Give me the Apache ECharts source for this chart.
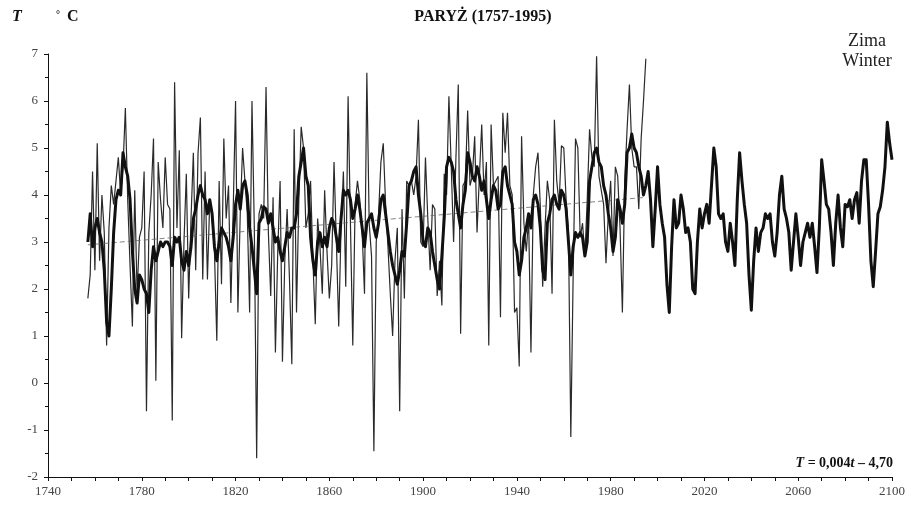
<!DOCTYPE html>
<html><head><meta charset="utf-8">
<script src="https://cdn.jsdelivr.net/npm/echarts@6/dist/echarts.min.js"></script>
<style>html,body{margin:0;padding:0;background:#fff}#c{width:912px;height:506px}</style>
</head><body><div id="c"></div>
<script>
// Observed winter temperatures, Paris 1757-1995 (thin line)
const observedStartYear = 1757;
const observed = [
1.8,2.3,4.5,2.4,5.1,2.6,4.0,3.2,0.8,3.3,4.2,3.8,4.3,4.8,4.0,4.6,5.85,3.9,2.5,1.2,4.1,1.9,3.1,3.3,4.5,-0.6,3.2,4.0,5.2,0.05,4.7,3.9,3.3,4.8,
3.8,3.7,-0.8,6.4,3.3,4.95,0.95,3.0,4.45,1.8,3.5,4.9,2.4,4.9,5.65,2.2,4.5,2.2,3.9,3.5,2.8,0.9,4.3,2.1,5.2,3.5,4.2,1.7,3.7,6.0,1.5,3.6,5.0,4.3,3.6,
1.5,6.0,3.3,-1.6,3.6,3.8,3.5,6.3,3.2,1.85,3.95,0.65,2.8,4.3,0.45,2.6,3.7,2.2,0.4,5.4,1.5,3.9,5.45,5.0,3.3,3.6,4.3,2.6,1.25,3.5,2.9,1.9,4.1,2.8,1.8,
2.5,4.7,3.0,1.2,3.3,4.5,2.05,6.1,3.4,0.8,3.8,4.3,3.9,3.2,1.9,6.6,3.4,2.7,-1.45,3.0,3.6,4.7,5.1,3.8,2.9,1.9,1.0,2.6,3.3,-0.6,3.7,1.8,4.3,4.2,4.3,
4.0,4.4,5.6,3.0,2.9,4.8,3.5,2.4,3.8,3.7,1.85,2.6,1.65,4.45,4.0,6.1,4.6,3.0,4.8,6.35,1.05,4.2,4.3,5.8,4.2,4.4,5.25,3.2,4.4,5.5,
4.0,4.7,0.8,5.5,4.2,4.3,4.4,1.4,5.75,4.9,5.75,4.2,4.0,1.5,1.6,0.35,5.25,3.4,2.8,3.5,0.65,4.0,4.6,4.9,3.75,2.05,3.3,4.3,3.9,1.9,5.6,4.3,3.8,5.05,5.0,
3.9,3.2,-1.15,2.3,5.2,5.0,3.1,3.4,2.7,3.9,5.4,4.8,4.6,6.95,4.4,4.1,3.8,2.55,3.6,4.3,2.7,4.6,4.4,3.3,1.5,4.3,5.4,6.35,5.0,4.6,4.6,3.7,5.2,6.0,6.9
];
// Smoothed / projected series 1757-2100 (thick line)
const modelStartYear = 1757;
const model = [
3.0,3.6,2.9,3.3,3.5,3.2,3.0,2.4,1.3,1.0,2.0,3.2,3.9,4.1,4.0,4.9,4.6,4.4,3.9,2.8,2.0,1.7,2.3,2.2,2.0,1.9,1.5,2.4,2.9,2.6,2.8,3.0,2.9,3.0,
3.0,2.9,2.5,3.1,3.0,3.1,2.6,2.4,2.8,2.5,2.9,3.5,3.7,4.0,4.2,4.0,3.9,3.6,3.9,3.6,2.9,2.6,3.0,3.3,3.2,3.1,2.9,2.6,3.1,3.8,4.1,3.7,4.2,4.3,4.0,
3.3,2.9,2.4,1.9,3.4,3.5,3.75,3.7,3.4,3.6,3.3,3.0,3.1,2.8,2.6,2.9,3.2,3.1,3.3,3.3,3.6,4.4,4.7,5.0,4.4,4.2,3.1,2.6,2.3,3.0,3.2,2.9,3.1,2.9,3.3,
3.5,3.4,3.1,2.8,3.5,4.1,4.0,4.1,3.9,3.5,3.7,4.0,3.7,3.3,2.9,3.4,3.5,3.6,3.3,3.1,3.4,3.9,4.0,3.6,3.2,2.8,2.5,2.3,2.1,2.4,2.8,2.7,3.4,4.2,4.3,
4.5,4.6,4.0,3.6,3.0,2.9,3.3,3.2,2.8,2.5,2.2,2.0,2.7,3.5,4.6,4.8,4.7,4.5,3.9,3.6,3.3,3.8,4.1,4.9,4.7,4.4,4.3,4.6,4.4,4.1,
4.3,3.9,3.5,3.9,4.2,4.1,3.7,3.8,4.5,4.6,4.2,4.0,3.8,3.0,2.8,2.3,2.6,3.1,3.3,3.6,3.3,3.9,4.0,3.8,3.3,2.4,2.2,3.4,3.6,3.9,4.0,3.8,3.7,4.1,4.0,
3.7,3.0,2.3,2.9,3.2,3.1,3.2,3.1,2.7,3.0,4.3,4.6,4.9,5.0,4.7,4.6,4.2,4.0,3.6,3.3,2.8,3.1,3.9,3.7,3.4,3.8,4.9,5.0,5.3,5.0,4.9,4.6,4.4,4.0,4.2,
4.5,3.9,2.9,3.7,4.6,3.8,3.4,3.1,2.1,1.5,2.9,3.9,3.3,3.4,4.0,3.7,3.2,3.3,3.0,2.0,1.9,3.0,3.7,3.3,3.6,3.8,3.4,4.2,5.0,4.6,3.6,3.5,3.6,3.0,2.8,
3.4,3.0,2.5,3.9,4.9,4.3,3.8,3.4,2.3,1.55,2.6,3.3,2.8,3.2,3.3,3.6,3.5,3.6,3.0,2.7,3.2,4.0,4.4,3.7,3.5,3.2,2.4,3.0,3.6,3.1,2.5,3.0,3.2,3.4,3.1,
3.4,2.9,2.35,3.3,4.75,4.3,3.8,3.7,3.2,2.5,3.4,4.0,3.3,2.9,3.8,3.75,3.9,3.5,3.9,4.05,3.4,4.3,4.75,4.75,3.8,2.6,2.05,2.8,3.6,3.75,4.1,4.6,5.55,5.1,4.75
];
// Linear trend (dashed) at its ends
const trendYears = [1757, 1995];
const trendValues = [2.94, 3.95];

const obsData = observed.map((v, i) => [observedStartYear + i, v]);
const modelData = model.map((v, i) => [modelStartYear + i, v]);
const trendData = trendYears.map((y, i) => [y, trendValues[i]]);

const serif = '"Liberation Serif", "DejaVu Serif", serif';
const chart = echarts.init(document.getElementById('c'), null, {renderer: 'canvas'});
chart.setOption({
  animation: false,
  backgroundColor: '#fff',
  grid: {left: 48, right: 20, top: 54, bottom: 29, containLabel: false},
  xAxis: {
    type: 'value', min: 1740, max: 2100, interval: 40,
    axisLine: {show: true, onZero: false, lineStyle: {color: '#111', width: 1}},
    axisTick: {show: true, length: 4, lineStyle: {color: '#111'}},
    minorTick: {show: true, splitNumber: 4, length: 4, lineStyle: {color: '#111'}},
    splitLine: {show: false},
    axisLabel: {fontFamily: serif, fontSize: 13, color: '#444', margin: 8, formatter: v => String(v)}
  },
  yAxis: {
    type: 'value', min: -2, max: 7, interval: 1,
    axisLine: {show: true, onZero: false, lineStyle: {color: '#111', width: 1}},
    axisTick: {show: true, length: 4, lineStyle: {color: '#111'}},
    minorTick: {show: true, splitNumber: 2, length: 3, lineStyle: {color: '#111'}},
    splitLine: {show: false},
    axisLabel: {fontFamily: serif, fontSize: 13, color: '#444', margin: 10, formatter: v => String(v)}
  },
  series: [
    {type: 'line', data: obsData, symbol: 'none', lineStyle: {color: '#2a2a2a', width: 1.2}, z: 2},
    {type: 'line', data: trendData, symbol: 'none', lineStyle: {color: '#666', width: 0.8, type: [5, 3]}, z: 3},
    {type: 'line', data: modelData, symbol: 'none', lineStyle: {color: '#111', width: 3, join: 'round'}, z: 4}
  ],
  graphic: [
    {type: 'text', left: 12, top: 9, style: {text: 'T', font: 'italic bold 16px ' + serif, fill: '#111'}},
    {type: 'text', left: 56, top: 10, style: {text: '°', font: 'bold 10px ' + serif, fill: '#111'}},
    {type: 'text', left: 67, top: 9, style: {text: 'C', font: 'bold 16px ' + serif, fill: '#111'}},
    {type: 'text', x: 483, y: 17, style: {text: 'PARYŻ (1757-1995)', font: 'bold 16px ' + serif, fill: '#111', align: 'center', verticalAlign: 'middle'}},
    {type: 'text', x: 867, y: 41, style: {text: 'Zima', font: '18px ' + serif, fill: '#222', align: 'center', verticalAlign: 'middle'}},
    {type: 'text', x: 867, y: 61, style: {text: 'Winter', font: '18px ' + serif, fill: '#222', align: 'center', verticalAlign: 'middle'}},
    {type: 'text', x: 893, y: 463, style: {
      text: '{i|T} = 0,004{i|t} – 4,70', font: 'bold 14px ' + serif, fill: '#111', align: 'right', verticalAlign: 'middle',
      rich: {i: {font: 'italic bold 14px ' + serif, fill: '#111'}}
    }}
  ]
});
</script>
</body></html>
